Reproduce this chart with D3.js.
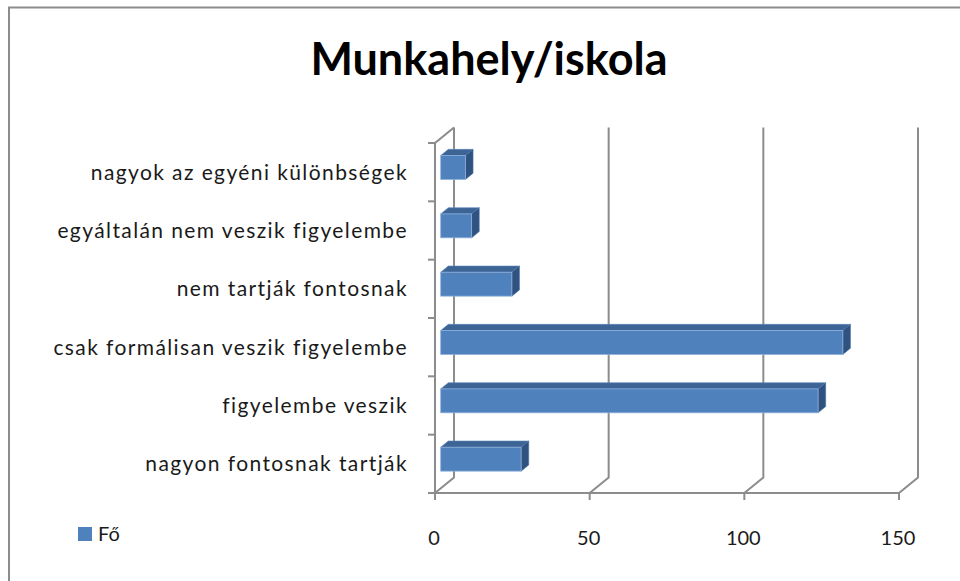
<!DOCTYPE html>
<html lang="hu">
<head>
<meta charset="UTF-8">
<title>Munkahely/iskola</title>
<script src="https://d3js.org/d3.v7.min.js"></script>
<style>
    * { margin: 0; padding: 0; box-sizing: border-box; }
    body { background: #fff; width: 960px; height: 581px; overflow: hidden; }
    svg { display: block; font-family: Lato, 'Open Sans', sans-serif; }
    .cat text { font-size: 21px; letter-spacing: 1.4px; fill: #1a1a1a; }
    .tick-label { font-size: 20px; fill: #1a1a1a; }
</style>
</head>
<body>
<div id="chart"></div>
<script>
    // data (first category = bottom row, as in the original Excel chart)
    const categories = [
        "nagyon fontosnak tartják",
        "figyelembe veszik",
        "csak formálisan veszik figyelembe",
        "nem tartják fontosnak",
        "egyáltalán nem veszik figyelembe",
        "nagyok az egyéni különbségek"
    ];
    const values = [26, 122, 130, 23, 10, 8];
    const xTicks = [0, 50, 100, 150];
    const seriesName = "Fő";

    const W = 960, H = 581;
    // 3D depth vector (front -> back)
    const DX = 19, DY = -15.5;
    const d0 = 0.3, d1 = 0.7;   // bar front / back depth

    const svg = d3.select("#chart").append("svg")
        .attr("width", W).attr("height", H);

    // outer frame (only top and left are inside the picture)
    svg.append("path")
        .attr("d", "M9,600 L9,7.5 L970,7.5")
        .attr("fill", "none").attr("stroke", "#8c8c8c").attr("stroke-width", 2);

    svg.append("text")
        .attr("x", 489).attr("y", 75)
        .attr("text-anchor", "middle")
        .style("font-size", "45px").style("font-weight", 700)
        .attr("fill", "#000")
        .text("Munkahely/iskola");

    const x = d3.scaleLinear().domain([0, 150]).range([435, 899]);
    const y = d3.scaleBand().domain(categories).range([493, 143])
        .paddingInner(0.59).paddingOuter(0.295);

    const grid = "#8c8c8c";
    const walls = svg.append("g").attr("fill", "none").attr("stroke", grid).attr("stroke-width", 2);

    // back wall gridlines + floor diagonals
    xTicks.forEach(t => {
        walls.append("path")
            .attr("d", `M${x(t)},493 L${x(t) + DX},${493 + DY} L${x(t) + DX},${143 + DY}`);
        walls.append("line")
            .attr("x1", x(t)).attr("x2", x(t)).attr("y1", 493).attr("y2", 500);
    });
    // front floor edge
    walls.append("line").attr("x1", x(0) - 7).attr("x2", x(150)).attr("y1", 493).attr("y2", 493);
    // left wall front edge + top diagonal
    walls.append("path")
        .attr("d", `M${x(0)},493 L${x(0)},143 L${x(0) + DX},${143 + DY}`);
    // category ticks
    const bounds = categories.map(c => y(c) - y.step() * y.paddingInner() / 2);
    bounds.forEach(b => {
        walls.append("line").attr("x1", x(0) - 7).attr("x2", x(0)).attr("y1", b).attr("y2", b);
    });

    // bars
    const bars = svg.append("g");
    categories.forEach((c, i) => {
        const v = values[i];
        const x0 = x(0) + d0 * DX, x1 = x(v) + d0 * DX;
        const yt = y(c) + d0 * DY, yb = yt + y.bandwidth();
        const ex = (d1 - d0) * DX, ey = (d1 - d0) * DY;
        // top face
        bars.append("path")
            .attr("d", `M${x0},${yt} L${x0 + ex},${yt + ey} L${x1 + ex},${yt + ey} L${x1},${yt} Z`)
            .attr("fill", "#3c6494").attr("stroke", "#5a86bd").attr("stroke-width", 0.6);
        // side face
        bars.append("path")
            .attr("d", `M${x1},${yt} L${x1 + ex},${yt + ey} L${x1 + ex},${yb + ey} L${x1},${yb} Z`)
            .attr("fill", "#2f5281").attr("stroke", "#4a72a6").attr("stroke-width", 0.6);
        // front face
        bars.append("rect")
            .attr("x", x0).attr("y", yt)
            .attr("width", x1 - x0).attr("height", y.bandwidth())
            .attr("fill", "#4f81bd").attr("stroke", "#8fb0da").attr("stroke-width", 0.8);
    });

    // category labels
    svg.append("g").attr("class", "cat")
        .selectAll("text").data(categories).join("text")
        .attr("x", 408)
        .attr("y", d => y(d) + y.bandwidth() / 2)
        .attr("dy", "0.35em")
        .attr("text-anchor", "end")
        .text(d => d);

    // value axis labels
    svg.append("g").selectAll("text").data(xTicks).join("text")
        .attr("class", "tick-label")
        .attr("x", d => x(d) - 1)
        .attr("y", 545)
        .attr("text-anchor", "middle")
        .text(d => d);

    // legend
    svg.append("rect").attr("x", 78).attr("y", 527).attr("width", 14).attr("height", 14).attr("fill", "#4f81bd");
    svg.append("text").attr("x", 98).attr("y", 541)
        .style("font-size", "20px").attr("fill", "#1a1a1a")
        .text(seriesName);
</script>
</body>
</html>
